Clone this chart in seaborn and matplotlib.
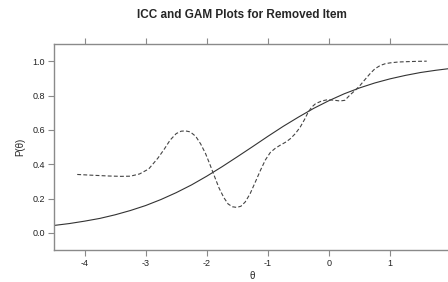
import numpy as np
import pandas as pd
import seaborn as sns
import matplotlib
matplotlib.use("Agg")
import matplotlib.pyplot as plt

# ICC (solid)
icc_theta = [-4.5, -4.25, -4.0, -3.75, -3.5, -3.25, -3.0, -2.75, -2.5, -2.25,
             -2.0, -1.75, -1.5, -1.25, -1.0, -0.75, -0.5, -0.25, 0.0, 0.25,
             0.5, 0.75, 1.0, 1.25, 1.5, 1.75, 2.0, 2.25, 2.5]
icc_p = [0.043, 0.054, 0.068, 0.084, 0.105, 0.130, 0.159, 0.194, 0.234, 0.279,
         0.330, 0.385, 0.443, 0.502, 0.562, 0.620, 0.674, 0.725, 0.770, 0.810,
         0.844, 0.873, 0.897, 0.917, 0.934, 0.947, 0.958, 0.967, 0.974]

# GAM (dashed)
gam_theta = [-4.12, -3.90, -3.60, -3.40, -3.25, -3.10, -2.95, -2.80, -2.70, -2.60,
             -2.50, -2.42, -2.35, -2.27, -2.18, -2.10, -2.02, -1.95, -1.88, -1.80,
             -1.72, -1.65, -1.58, -1.51, -1.44, -1.37, -1.29, -1.20, -1.12, -1.04,
             -0.96, -0.88, -0.80, -0.70, -0.63, -0.55, -0.47, -0.40, -0.34, -0.28,
             -0.22, -0.12, -0.03, 0.08, 0.18, 0.26, 0.35, 0.43, 0.51, 0.59,
             0.67, 0.75, 0.84, 0.92, 1.00, 1.13, 1.27, 1.45, 1.60]
gam_p = [0.340, 0.336, 0.331, 0.329, 0.330, 0.343, 0.372, 0.435, 0.485, 0.540,
         0.578, 0.592, 0.594, 0.588, 0.562, 0.518, 0.462, 0.400, 0.335, 0.262,
         0.205, 0.168, 0.152, 0.148, 0.155, 0.180, 0.228, 0.300, 0.365, 0.425,
         0.468, 0.492, 0.510, 0.530, 0.549, 0.578, 0.616, 0.660, 0.703, 0.733,
         0.752, 0.768, 0.775, 0.773, 0.768, 0.772, 0.805, 0.830, 0.859, 0.893,
         0.926, 0.955, 0.975, 0.985, 0.990, 0.995, 0.997, 0.999, 1.000]

x_ticks = [-4, -3, -2, -1, 0, 1]
y_ticks = [0.0, 0.2, 0.4, 0.6, 0.8, 1.0]

sns.set_style("ticks")
plt.rcParams['font.family'] = ['Liberation Sans', 'DejaVu Sans']
plt.rcParams['axes.unicode_minus'] = False

fig = plt.figure(figsize=(4.48, 2.82), dpi=100)
ax = fig.add_axes([54 / 448, 32 / 282, 427.7 / 448, 206 / 282])

icc = pd.DataFrame({"theta": icc_theta, "p": icc_p})
gam = pd.DataFrame({"theta": gam_theta, "p": gam_p})

sns.lineplot(data=icc, x="theta", y="p", ax=ax, color="#333333", lw=0.8, sort=False)
sns.lineplot(data=gam, x="theta", y="p", ax=ax, color="#444444", lw=0.8,
             sort=False, linestyle=(0, (3.5, 2)))

ax.set_xlim(-4.5, 2.5)
ax.set_ylim(-0.1, 1.1)
ax.set_xticks(x_ticks)
ax.set_yticks(y_ticks)
ax.set_xticklabels([str(v) for v in x_ticks])
ax.set_yticklabels([f"{v:.1f}" for v in y_ticks])
ax.set_xlabel("")
ax.set_ylabel("")

gray = "#8a8a8a"
for s in ax.spines.values():
    s.set_color(gray)
    s.set_linewidth(1.0)
ax.tick_params(axis="both", which="both", direction="out", length=4.3, width=0.8,
               color=gray, labelsize=6.5, labelcolor="#222222", pad=2)
ax.tick_params(axis="x", top=True, labeltop=False)

fig.text(242 / 448, 1 - 15 / 282, "ICC and GAM Plots for Removed Item",
         ha="center", va="center", fontsize=8.5, fontweight="bold")
fig.text(252 / 448, 1 - 276 / 282, "θ", ha="center", va="center", fontsize=7)
fig.text(20 / 448, 1 - 147 / 282, "P(θ)", ha="center", va="center",
         fontsize=7, rotation=90)

fig.savefig("out.png", dpi=100)
